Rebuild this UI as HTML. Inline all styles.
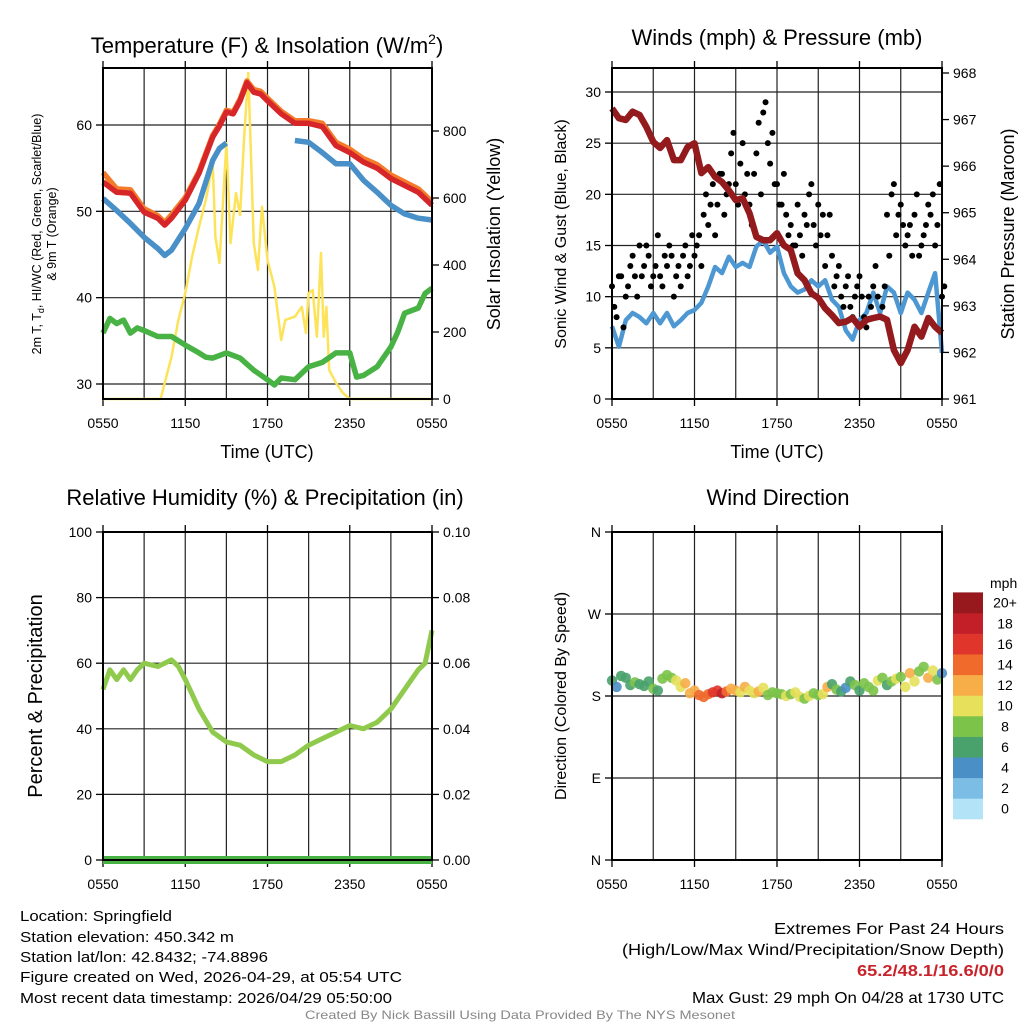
<!DOCTYPE html>
<html><head><meta charset="utf-8"><style>
html,body{margin:0;padding:0;background:#fff;}
svg{display:block;font-family:"Liberation Sans",sans-serif;}
</style></head><body>
<svg id="fig" width="1024" height="1024" viewBox="0 0 1024 1024" xmlns="http://www.w3.org/2000/svg">
<rect width="1024" height="1024" fill="#fff"/>
<g id="p1"></g>
<g id="p2"></g>
<g id="p3"></g>
<g id="p4"></g>

<text x="267" y="53" font-size="22" text-anchor="middle">Temperature (F) &amp; Insolation (W/m<tspan font-size="14" dy="-9">2</tspan><tspan dy="9">)</tspan></text>
<text x="777" y="45" font-size="22" text-anchor="middle">Winds (mph) &amp; Pressure (mb)</text>
<text x="265" y="505" font-size="22" text-anchor="middle">Relative Humidity (%) &amp; Precipitation (in)</text>
<text x="778" y="505" font-size="22" text-anchor="middle">Wind Direction</text>

<text x="267" y="458" font-size="18" text-anchor="middle">Time (UTC)</text>
<text x="777" y="458" font-size="18" text-anchor="middle">Time (UTC)</text>

<text transform="translate(41,234) rotate(-90)" font-size="12.5" text-anchor="middle">2m T, T<tspan font-size="9" dy="3">d</tspan><tspan dy="-3">, HI/WC (Red, Green, Scarlet/Blue)</tspan></text>
<text transform="translate(56,234) rotate(-90)" font-size="12.5" text-anchor="middle">&amp; 9m T (Orange)</text>
<text transform="translate(500,234) rotate(-90)" font-size="18" text-anchor="middle">Solar Insolation (Yellow)</text>
<text transform="translate(566,234) rotate(-90)" font-size="16" text-anchor="middle">Sonic Wind &amp; Gust (Blue, Black)</text>
<text transform="translate(1014,234) rotate(-90)" font-size="18" text-anchor="middle">Station Pressure (Maroon)</text>
<text transform="translate(42,696) rotate(-90)" font-size="20" text-anchor="middle">Percent &amp; Precipitation</text>
<text transform="translate(566,696) rotate(-90)" font-size="16" text-anchor="middle">Direction (Colored By Speed)</text>

<g font-size="15">
<text x="20" y="921" textLength="152" lengthAdjust="spacingAndGlyphs">Location: Springfield</text>
<text x="20" y="942" textLength="214" lengthAdjust="spacingAndGlyphs">Station elevation: 450.342 m</text>
<text x="20" y="962" textLength="248" lengthAdjust="spacingAndGlyphs">Station lat/lon: 42.8432; -74.8896</text>
<text x="20" y="982" textLength="382" lengthAdjust="spacingAndGlyphs">Figure created on Wed, 2026-04-29, at 05:54 UTC</text>
<text x="20" y="1003" textLength="372" lengthAdjust="spacingAndGlyphs">Most recent data timestamp: 2026/04/29 05:50:00</text>
</g>
<g font-size="16">
<text x="774" y="934" textLength="230" lengthAdjust="spacingAndGlyphs">Extremes For Past 24 Hours</text>
<text x="622" y="955" textLength="382" lengthAdjust="spacingAndGlyphs">(High/Low/Max Wind/Precipitation/Snow Depth)</text>
<text x="857" y="976" textLength="147" lengthAdjust="spacingAndGlyphs" fill="#c8232a" font-weight="bold">65.2/48.1/16.6/0/0</text>
<text x="692" y="1003" textLength="312" lengthAdjust="spacingAndGlyphs">Max Gust: 29 mph On 04/28 at 1730 UTC</text>
</g>
<text x="305" y="1019" font-size="12" fill="#888" textLength="430" lengthAdjust="spacingAndGlyphs">Created By Nick Bassill Using Data Provided By The NYS Mesonet</text>
</svg>
<script>
// ---- data (half-hourly, hours since 0550 UTC) ----
const xTickLabels = ["0550","1150","1750","2350","0550"];
const tempTicks = [30,40,50,60];
const solarTicks = [0,200,400,600,800];
const windTicks = [0,5,10,15,20,25,30];
const presTicks = [961,962,963,964,965,966,967,968];
const rhTicks = [0,20,40,60,80,100];
const precipTicks = ["0.00","0.02","0.04","0.06","0.08","0.10"];
const dirTicks = ["N","E","S","W","N"];

const tempHours = [0,1,2,3,4,4.5,5,6,7,8,8.5,9,9.5,10,10.5,11,11.5,12,13,14,15,16,17,18,19,20,21,22,23,24];
const temp2m = [53.4,52.2,52.1,49.9,49.2,48.4,49.2,51.3,54.4,58.6,59.9,61.5,61.3,62.8,64.9,63.8,63.6,62.8,61.3,60.2,60.2,59.8,57.6,56.8,55.7,55.0,53.8,53.0,52.2,50.7];
const temp9m = [54.5,52.6,52.5,50.3,49.5,48.7,49.6,51.6,54.6,58.8,60.1,61.7,61.5,63.0,65.1,64.1,63.9,63.1,61.6,60.5,60.5,60.2,58.0,57.2,56.1,55.4,54.2,53.4,52.6,51.1];
const heatWC = [51.5,50.1,48.6,47.0,45.7,44.9,45.5,48.0,50.9,55.9,57.3,57.9,null,null,null,null,null,null,null,58.2,58.0,56.8,55.5,55.5,53.6,52.2,50.7,49.7,49.2,49.0];
const dewHours = [0,0.5,1,1.5,2,2.5,3,4,5,6,7,7.5,8,9,10,11,12,12.5,13,14,15,16,17,18,18.5,19,20,21,21.5,22,23,23.5,24];
const dewpoint = [35.9,37.6,37.0,37.4,35.9,36.5,36.2,35.5,35.5,34.5,33.6,33.1,33.0,33.6,33.0,31.6,30.5,29.9,30.7,30.5,32.0,32.5,33.6,33.6,30.8,31.0,32.0,34.3,36.0,38.2,38.8,40.5,41.1];
const solarHours = [0,4.2,5,5.5,6,6.5,7,7.5,8,8.2,8.5,9,9.3,9.7,10,10.3,10.6,11,11.3,11.6,12,12.5,13,13.3,14,14.5,14.8,15,15.3,15.6,15.9,16.1,16.3,16.5,17,17.5,18,24];
const solar = [0,0,126,236,316,425,514,594,704,484,406,764,465,615,549,783,973,465,385,574,415,335,176,236,246,275,197,316,325,186,436,186,275,87,48,18,0,0];

const windHours = [0,0.5,1,1.5,2,2.5,3,3.5,4,4.5,5,5.5,6,6.5,7,7.5,8,8.5,9,9.5,10,10.5,11,11.5,12,12.5,13,13.5,14,14.5,15,15.5,16,16.5,17,17.5,18,18.5,19,19.5,20,20.5,21,21.5,22,22.5,23,23.5,24];
const pressure = [967.24,967.03,966.99,967.17,967.10,966.84,966.52,966.39,966.56,966.13,966.13,966.41,966.49,965.85,965.98,965.77,965.66,965.48,965.27,965.31,964.99,964.48,964.41,964.41,964.56,964.30,964.20,963.70,963.55,963.27,963.17,962.95,962.80,962.63,962.66,962.74,962.55,962.70,962.74,962.77,962.70,962.05,961.77,962.05,962.55,962.34,962.74,962.55,962.42];
const windSpeed = [7.1,5.1,7.7,8.4,8.0,7.4,8.4,7.4,8.4,7.1,7.7,8.4,8.7,9.4,11.0,12.9,12.3,13.9,12.9,13.3,12.9,14.9,15.5,14.3,14.9,12.3,11.0,10.4,10.7,11.6,11.0,11.6,9.7,9.0,6.7,5.8,7.7,8.4,10.4,8.4,11.0,10.4,8.4,10.4,9.7,8.4,10.4,12.3,4.5];
const gust = [11,8,12,10,13,12,15,13,14,12,16,11,13,14,12,11,15,13,14,16,18,17,21,19,22,20,24,21,23,20,19,22,27,28,25,26,21,19,18,17,15,16,18,20,17,19,18,16,14,12,10,11,9,10,12,8,10,11,10,9,18,20,16,19,15,17,18,14,16,19,20,17,10];
const gustB = [9,12,7,11,14,10,12,15,11,13,12,14,15,10,13,14,12,16,15,13,20,19,16,22,18,21,26,19,25,22,17,24,20,29,23,21,19,22,16,15,19,14,17,21,15,16,13,18,11,13,9,12,8,11,10,7,9,13,8,11,14,21,18,17,16,14,20,15,17,18,15,21,11];

const rhHours = [0,0.5,1,1.5,2,2.5,3,4,5,5.5,6,7,8,9,10,11,12,13,14,15,16,17,18,19,20,21,22,23,23.5,24];
const rh = [52,58,55,58,55,58,60,59,61,59,55,46,39,36,35,32,30,30,32,35,37,39,41,40,42,46,52,58,60,70];
const precip = [0,0];

const dirDeg = [197,190,202,200,192,195,193,191,196,188,186,199,203,200,197,190,194,183,186,181,179,182,184,186,183,185,188,186,184,190,186,183,185,189,181,184,183,182,180,182,184,179,177,180,183,181,182,190,193,187,185,189,196,192,186,194,190,186,197,200,192,196,199,201,190,205,196,207,212,200,208,198,205];
const dirSpeed = [6,4,7,6,7,8,7,6,7,8,7,8,8,9,10,11,12,12,13,14,14,15,16,17,18,15,13,12,11,12,10,11,12,10,9,8,9,8,10,9,11,10,8,10,9,8,10,12,7,8,6,5,7,8,6,9,8,9,10,8,7,9,10,8,11,12,10,9,8,12,10,8,4];

const cbLabels = ["0","2","4","6","8","10","12","14","16","18","20+"];
const cbColors = ["#b3e3f6","#7cbde6","#4a8fc6","#49a26b","#7cc34a","#e6e05a","#f7ad48","#f06a2c","#e0352b","#c31f28","#97181d"];

// ---- helpers ----
const NS = "http://www.w3.org/2000/svg";
function mk(parent, tag, attrs){const e=document.createElementNS(NS,tag);for(const k in attrs)e.setAttribute(k,attrs[k]);parent.appendChild(e);return e;}
function lin(d0,d1,r0,r1){return v=>r0+(v-d0)*(r1-r0)/(d1-d0);}
function pathFrom(xs,ys,fx,fy){let d="",pen=false;for(let i=0;i<xs.length;i++){if(ys[i]===null||ys[i]===undefined){pen=false;continue;}d+=(pen?"L":"M")+fx(xs[i]).toFixed(1)+","+fy(ys[i]).toFixed(1);pen=true;}return d;}

function frame(g,L,T,R,B,hLines){
  const xs=lin(0,24,L,R);
  for(let h=3;h<24;h+=3){
    const l=mk(g,"line",{x1:xs(h),x2:xs(h),y1:T,y2:B,stroke:"#222","stroke-width":1.2});
    
    
  }
  hLines.forEach(y=>{
    const l=mk(g,"line",{x1:L,x2:R,y1:y,y2:y,stroke:"#222","stroke-width":1.2});
    
    
  });
  xTickLabels.forEach((s,i)=>{
    const x=xs(i*6);
    const tk=mk(g,"line",{x1:x,x2:x,y1:B,y2:B+7,stroke:"#000","stroke-width":1.3});
    
    
    const tk2=mk(g,"line",{x1:x,x2:x,y1:T-7,y2:T,stroke:"#000","stroke-width":1.3});
    
    
    const t=mk(g,"text",{x:x,y:B+29,"font-size":14,"text-anchor":"middle"});t.textContent=s;
    
    
  });
  return xs;
}
function border(g,L,T,R,B){
  const r=mk(g,"rect",{x:L,y:T,width:R-L,height:B-T,fill:"none",stroke:"#000","stroke-width":2});
  
  
}
function yTicks(g,vals,labels,fy,x,side){
  vals.forEach((v,i)=>{
    const y=fy(v);
    const tk=mk(g,"line",{x1:x,x2:x+(side<0?-7:7),y1:y,y2:y,stroke:"#000","stroke-width":1.3});
    
    
    const t=mk(g,"text",{x:x+(side<0?-11:11),y:y+5,"font-size":14,"text-anchor":side<0?"end":"start"});
    t.textContent=labels[i];
    
    
  });
}

// ---- panel 1 ----
(function(){
  const g=document.getElementById("p1");const L=103,T=68,R=432,B=399;
  const fy=lin(30,60,384,125), fs=lin(0,800,399,131);
  const xs=frame(g,L,T,R,B,tempTicks.map(fy));
  let p;
  p=mk(g,"path",{d:pathFrom(solarHours,solar,xs,fs),fill:"none",stroke:"#fde35a","stroke-width":2.5,"stroke-linejoin":"round"});
  
  p=mk(g,"path",{d:pathFrom(dewHours,dewpoint,xs,fy),fill:"none",stroke:"#48b344","stroke-width":5.5,"stroke-linejoin":"round"});
  
  p=mk(g,"path",{d:pathFrom(tempHours,heatWC,xs,fy),fill:"none",stroke:"#4a90c8","stroke-width":5.5,"stroke-linejoin":"round"});
  
  p=mk(g,"path",{d:pathFrom(tempHours,temp9m,xs,fy),fill:"none",stroke:"#f47b2a","stroke-width":5.5,"stroke-linejoin":"round"});
  
  p=mk(g,"path",{d:pathFrom(tempHours,temp2m,xs,fy),fill:"none",stroke:"#d7262a","stroke-width":5.5,"stroke-linejoin":"round"});
  
  border(g,L,T,R,B);
  yTicks(g,tempTicks,tempTicks.map(String),fy,L,-1);
  yTicks(g,solarTicks,solarTicks.map(String),fs,R,1);
})();

// ---- panel 2 ----
(function(){
  const g=document.getElementById("p2");const L=612,T=68,R=942,B=399;
  const fy=lin(0,30,399,92), fp=lin(961,968,399,73);
  const xs=frame(g,L,T,R,B,windTicks.map(fy));
  let p=mk(g,"path",{d:pathFrom(windHours,windSpeed,xs,fy),fill:"none",stroke:"#4d97d2","stroke-width":4.5,"stroke-linejoin":"round"});
  
  gust.forEach((v,i)=>{
    const c=mk(g,"circle",{cx:xs(i/3),cy:fy(v),r:3,fill:"#000"});
    
    
  });
  gustB.forEach((v,i)=>{
    const c=mk(g,"circle",{cx:xs(i/3+1/6),cy:fy(v),r:3,fill:"#000"});
    
    
  });
  p=mk(g,"path",{d:pathFrom(windHours,pressure,xs,fp),fill:"none",stroke:"#931a1d","stroke-width":6.5,"stroke-linejoin":"round"});
  
  border(g,L,T,R,B);
  yTicks(g,windTicks,windTicks.map(String),fy,L,-1);
  yTicks(g,presTicks,presTicks.map(String),fp,R,1);
})();

// ---- panel 3 ----
(function(){
  const g=document.getElementById("p3");const L=103,T=532,R=432,B=860;
  const fy=lin(0,100,860,532), fpr=lin(0,0.1,860,532);
  const xs=frame(g,L,T,R,B,rhTicks.map(fy));
  let p=mk(g,"path",{d:pathFrom(rhHours,rh,xs,fy),fill:"none",stroke:"#8fca4c","stroke-width":5,"stroke-linejoin":"round"});
  
  p=mk(g,"path",{d:pathFrom([0,24],precip,xs,fpr),fill:"none",stroke:"#48b344","stroke-width":8});
  
  border(g,L,T,R,B);
  yTicks(g,rhTicks,rhTicks.map(String),fy,L,-1);
  yTicks(g,precipTicks.map(Number),precipTicks,fpr,R,1);
})();

// ---- panel 4 ----
(function(){
  const g=document.getElementById("p4");const L=612,T=532,R=942,B=860;
  const fy=lin(0,360,860,532);
  const dv=[0,90,180,270,360];
  const xs=frame(g,L,T,R,B,dv.map(fy));
  dirDeg.forEach((v,i)=>{
    const ci=Math.min(10,Math.floor(dirSpeed[i]/2));
    const c=mk(g,"circle",{cx:xs(i/3),cy:fy(v),r:5.2,fill:cbColors[ci],"fill-opacity":0.9});
    
    
  });
  border(g,L,T,R,B);
  yTicks(g,dv,dirTicks,fy,L,-1);
  const cb=mk(g,"g",{});
  
  
  const t0=mk(cb,"text",{x:990,y:588,"font-size":14});t0.textContent="mph";
  
  
  const h=20.6;
  cbColors.forEach((col,i)=>{
    const y=819-(i+1)*h;
    const r=mk(cb,"rect",{x:953,y:y,width:30,height:h+0.3,fill:col});
    
    
    const t=mk(cb,"text",{x:1005,y:y+h/2+5,"font-size":14,"text-anchor":"middle"});t.textContent=cbLabels[i];
    
    
  });
})();
</script>
</body></html>
